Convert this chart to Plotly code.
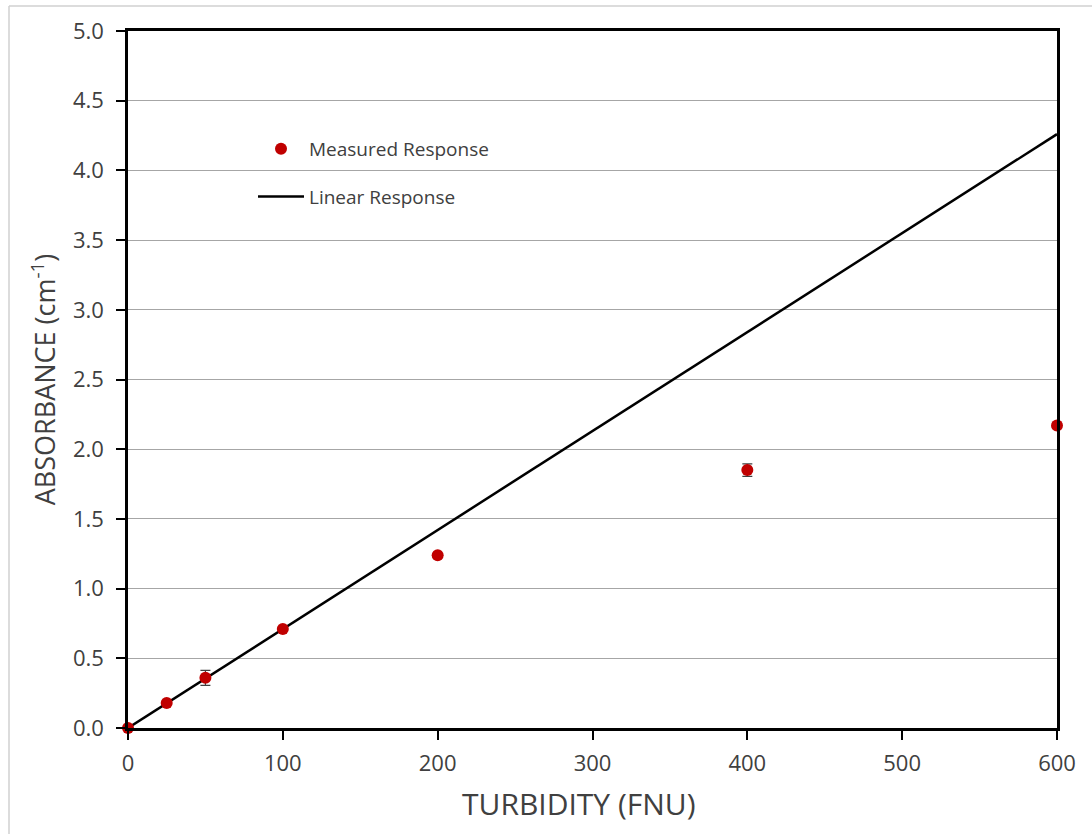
import plotly.graph_objects as go

turbidity = [0, 25, 50, 100, 200, 400, 600]
absorbance = [0.00, 0.18, 0.36, 0.71, 1.24, 1.85, 2.17]
abs_err = [0.005, 0.01, 0.054, 0.01, 0.01, 0.045, 0.02]
linear_x = [0, 600]
linear_y = [0.0, 4.26]
x_title = "TURBIDITY (FNU)"
y_title = "ABSORBANCE (cm<sup>-1</sup>)"

W, H = 1092, 834
ml, mr, mt, mb = 128, 35, 31, 106
pw, ph = W - ml - mr, H - mt - mb

def px(xp):
    return (xp - ml) / pw

def py(yp):
    return (H - mb - yp) / ph

font_family = "Open Sans, Noto Sans, sans-serif"
txt = "#404040"

fig = go.Figure()
fig.add_trace(go.Scatter(
    x=linear_x, y=linear_y, mode="lines", name="Linear Response",
    legendgroup="b", legendrank=2,
    line=dict(color="black", width=2.5),
))
fig.add_trace(go.Scatter(
    x=turbidity, y=absorbance, mode="markers", name="Measured Response",
    legendgroup="a", legendrank=1,
    marker=dict(color="#c00000", size=12),
    error_y=dict(type="data", array=abs_err, visible=True, color="#404040",
                 thickness=1.2, width=5),
    cliponaxis=False,
))

fig.update_layout(
    width=W, height=H,
    margin=dict(l=ml, r=mr, t=mt, b=mb),
    paper_bgcolor="white", plot_bgcolor="white",
    font=dict(family=font_family, color=txt, size=20),
    showlegend=True,
    legend=dict(
        x=px(253), y=py(130), xanchor="left", yanchor="top",
        bgcolor="rgba(0,0,0,0)", borderwidth=0,
        font=dict(size=19, color=txt),
        itemwidth=46, traceorder="grouped", tracegroupgap=20,
    ),
    xaxis=dict(
        range=[0, 600], dtick=100, tick0=0,
        showline=True, linecolor="black", linewidth=2.5, mirror=True,
        ticks="outside", ticklen=9, tickwidth=2, tickcolor="black",
        ticklabelstandoff=5,
        showgrid=False, zeroline=False,
        tickfont=dict(size=22, color=txt),
    ),
    yaxis=dict(
        range=[0, 5], dtick=0.5, tick0=0, tickformat=".1f",
        showline=True, linecolor="black", linewidth=2.5, mirror=True,
        ticks="outside", ticklen=9, tickwidth=2, tickcolor="black",
        ticklabelstandoff=8,
        showgrid=True, gridcolor="#a6a6a6", gridwidth=1, zeroline=False,
        tickfont=dict(size=22, color=txt),
        title=dict(text=y_title, font=dict(size=27, color=txt), standoff=10),
    ),
)

fig.add_annotation(text=x_title, xref="paper", yref="paper",
                   x=px(579), y=py(803), xanchor="center", yanchor="middle",
                   showarrow=False, font=dict(size=30, color=txt))

# white legend background covering the gridlines
fig.add_shape(type="rect", xref="paper", yref="paper",
              x0=px(232), x1=px(516), y0=py(224), y1=py(124),
              fillcolor="white", line=dict(width=0), layer="between")

# outer chart-area border (top and left edges visible in the image)
fig.add_shape(type="line", xref="paper", yref="paper",
              x0=px(9), x1=px(W + 5), y0=py(6), y1=py(6),
              line=dict(color="#d0d0d0", width=1.5), layer="below")
fig.add_shape(type="line", xref="paper", yref="paper",
              x0=px(9), x1=px(9), y0=py(6), y1=py(H + 5),
              line=dict(color="#d0d0d0", width=1.5), layer="below")

fig.write_html("out.html", config={"displayModeBar": False},
               post_script="document.body.style.margin='0';document.body.style.overflow='hidden';")
